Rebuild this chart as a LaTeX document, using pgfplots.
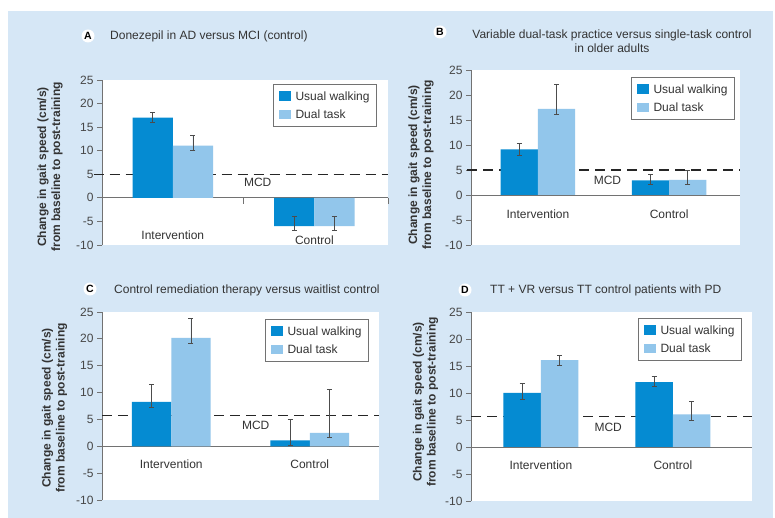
\documentclass[border=0pt]{standalone}
\usepackage{pgfplots}
\pgfplotsset{compat=1.18}
\usepackage{fontspec}
\setmainfont{Liberation Sans}
\definecolor{bgblue}{HTML}{D6E7F6}
\definecolor{usualc}{HTML}{058BD2}
\definecolor{dualc}{HTML}{92C6EB}
\definecolor{txt}{HTML}{333333}
\definecolor{axgray}{HTML}{727272}
\newcommand{\tf}{\fontsize{12}{14}\selectfont}
\pgfplotsset{
  panel/.style={
    scale only axis, ymin=-10, ymax=25,
    axis y line*=left, axis x line=none,
    ytick={-10,-5,...,25}, xtick=\empty,
    clip=false,
    axis background/.style={fill=white},
    y axis line style={axgray, line width=0.9pt},
    ytick style={axgray, line width=0.9pt},
    tick align=outside, major tick length=5pt,
    yticklabel style={font=\fontsize{12}{14}\selectfont, text=txt!90},
    /pgf/number format/assume math mode=true,
    legend cell align=left,
    legend style={draw=axgray, line width=0.8pt, fill=white, font=\tf, text=txt,
      inner xsep=5pt, inner ysep=5pt, row sep=4pt, column sep=3pt, anchor=north east},
  },
  zeroline/.style={axgray, line width=0.9pt, forget plot},
  mcdline/.style={black!85, line width=1.3pt, dash pattern=on 10pt off 6pt, forget plot},
  errs/.style={/pgfplots/error bars/.cd, y dir=both, y explicit,
    error bar style={line width=0.7pt, draw=black!70},
    error mark options={rotate=90, mark size=2.5pt, line width=0.7pt, draw=black!70}},
  usualbar/.style={ybar, fill=usualc, draw=none, bar width=0.284, bar shift=0pt,
    legend image code/.code={\fill[usualc] (0pt,-4.5pt) rectangle (12pt,5pt);}, errs},
  dualbar/.style={ybar, fill=dualc, draw=none, bar width=0.284, bar shift=0pt,
    legend image code/.code={\fill[dualc] (0pt,-4.5pt) rectangle (12pt,5pt);}, errs},
}
\begin{document}
\begin{tikzpicture}[x=1pt,y=1pt]
\useasboundingbox (0,0) rectangle (775,518);
\fill[white] (0,0) rectangle (775,518);
\fill[bgblue] (8,0) rectangle (773,507);

% ---------------- Panel A ----------------
\begin{axis}[panel, at={(102pt,273pt)}, anchor=south west, width=286pt, height=165pt,
  xmin=-0.5, xmax=1.52,
  legend style={at={(1,1)}, xshift=-11pt, yshift=-4pt}]
\addplot[zeroline] coordinates {(-0.5,0) (1.52,0)};
\addplot[mcdline] coordinates {(-0.56,5) (1.52,5)};
\addplot[usualbar] coordinates {(-0.142,17) += (0,1.2) -= (0,1.0) (0.858,-6) += (0,2.1) -= (0,1.0)};
\addlegendentry{Usual walking}
\addplot[dualbar] coordinates {(0.142,11.1) += (0,2.1) -= (0,1.1) (1.142,-6) += (0,2.1) -= (0,1.0)};
\addlegendentry{Dual task}
\draw[axgray, line width=0.9pt] (axis cs:0.5,0) -- ([yshift=-6pt]axis cs:0.5,0);
\draw[axgray, line width=0.9pt] (axis cs:1.52,0) -- ([yshift=-6pt]axis cs:1.52,0);
\node[font=\tf, text=txt] at (axis cs:0.6,3.2) {MCD};
\node[font=\tf, text=txt] at (axis cs:0,-8.0) {Intervention};
\node[font=\tf, text=txt] at (axis cs:1,-9.0) {Control};
\end{axis}
\node[circle, fill=white, inner sep=0pt, minimum size=13pt, font=\bfseries\fontsize{10.5}{12}\selectfont] at (88,482) {A};
\node[anchor=west, font=\tf, text=txt, inner sep=0pt] at (110,482) {Donezepil in AD versus MCI (control)};
\node[rotate=90, font=\bfseries\tf, text=txt, align=center] at (50,351) {Change in gait speed (cm/s)\\from baseline to post-training};

% ---------------- Panel B ----------------
\begin{axis}[panel, at={(471pt,273pt)}, anchor=south west, width=269pt, height=175pt,
  xmin=-0.51, xmax=1.54,
  legend style={at={(1,1)}, xshift=-5pt, yshift=-7pt}]
\addplot[zeroline] coordinates {(-0.51,0) (1.54,0)};
\addplot[mcdline] coordinates {(-0.54,5) (1.54,5)};
\addplot[usualbar] coordinates {(-0.142,9.1) += (0,1.15) -= (0,1.1) (0.858,2.9) += (0,1.2) -= (0,0.8)};
\addlegendentry{Usual walking}
\addplot[dualbar] coordinates {(0.142,17.2) += (0,5.0) -= (0,1.0) (1.142,3.0) += (0,1.9) -= (0,0.9)};
\addlegendentry{Dual task}
\node[font=\tf, text=txt] at (axis cs:0.53,3.0) {MCD};
\node[font=\tf, text=txt] at (axis cs:0,-3.8) {Intervention};
\node[font=\tf, text=txt] at (axis cs:1,-3.8) {Control};
\end{axis}
\node[circle, fill=white, inner sep=0pt, minimum size=13pt, font=\bfseries\fontsize{10.5}{12}\selectfont] at (440,486) {B};
\node[font=\tf, text=txt, align=center] at (612,476.5) {Variable dual-task practice versus single-task control\\in older adults};
\node[rotate=90, font=\bfseries\tf, text=txt, align=center] at (421,353) {Change in gait speed (cm/s)\\from baseline to post-training};

% ---------------- Panel C ----------------
\begin{axis}[panel, at={(102pt,18pt)}, anchor=south west, width=277pt, height=188pt,
  xmin=-0.5, xmax=1.5,
  legend style={at={(1,1)}, xshift=-10pt, yshift=-7pt}]
\addplot[zeroline] coordinates {(-0.5,0) (1.5,0)};
\addplot[mcdline] coordinates {(-0.5,5.75) (1.5,5.75)};
\addplot[usualbar] coordinates {(-0.142,8.25) += (0,3.25) -= (0,1.0) (0.858,1.1) += (0,3.9) -= (0,1.0)};
\addlegendentry{Usual walking}
\addplot[dualbar] coordinates {(0.142,20.2) += (0,3.55) -= (0,1.1) (1.142,2.5) += (0,8.1) -= (0,0.9)};
\addlegendentry{Dual task}
\node[font=\tf, text=txt] at (axis cs:0.61,3.9) {MCD};
\node[font=\tf, text=txt] at (axis cs:0,-3.4) {Intervention};
\node[font=\tf, text=txt] at (axis cs:1,-3.4) {Control};
\end{axis}
\node[circle, fill=white, inner sep=0pt, minimum size=13pt, font=\bfseries\fontsize{10.5}{12}\selectfont] at (90,229) {C};
\node[anchor=west, font=\tf, text=txt, inner sep=0pt] at (114,228) {Control remediation therapy versus waitlist control};
\node[rotate=90, font=\bfseries\tf, text=txt, align=center] at (54.5,110) {Change in gait speed (cm/s)\\from baseline to post-training};

% ---------------- Panel D ----------------
\begin{axis}[panel, at={(471pt,17pt)}, anchor=south west, width=281pt, height=189pt,
  xmin=-0.53, xmax=1.6,
  legend style={at={(1,1)}, xshift=-10pt, yshift=-6pt}]
\addplot[zeroline] coordinates {(-0.53,0) (1.6,0)};
\addplot[mcdline] coordinates {(-0.53,5.7) (1.6,5.7)};
\addplot[usualbar] coordinates {(-0.142,10.0) += (0,1.7) -= (0,1.1) (0.858,12.0) += (0,1.1) -= (0,0.8)};
\addlegendentry{Usual walking}
\addplot[dualbar] coordinates {(0.142,16.1) += (0,0.9) -= (0,1.0) (1.142,6.05) += (0,2.45) -= (0,1.05)};
\addlegendentry{Dual task}
\node[font=\tf, text=txt] at (axis cs:0.51,3.6) {MCD};
\node[font=\tf, text=txt] at (axis cs:0,-3.3) {Intervention};
\node[font=\tf, text=txt] at (axis cs:1,-3.3) {Control};
\end{axis}
\node[circle, fill=white, inner sep=0pt, minimum size=13pt, font=\bfseries\fontsize{10.5}{12}\selectfont] at (465,228) {D};
\node[anchor=west, font=\tf, text=txt, inner sep=0pt] at (490,228) {TT + VR versus TT control patients with PD};
\node[rotate=90, font=\bfseries\tf, text=txt, align=center] at (425.5,116) {Change in gait speed (cm/s)\\from baseline to post-training};
\end{tikzpicture}
\end{document}
